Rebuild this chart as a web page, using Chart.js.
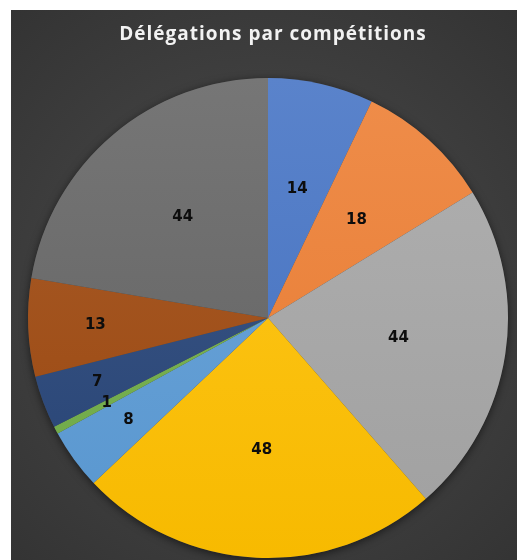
<!DOCTYPE html>
<html>
<head>
<meta charset="utf-8">
<script src="https://cdn.jsdelivr.net/npm/chart.js@4.4.1/dist/chart.umd.min.js"></script>
<style>
  html, body { margin: 0; padding: 0; background: #fff; }
  #wrap { width: 517px; height: 560px; position: relative; }
</style>
</head>
<body>
<div id="wrap"><canvas id="pie-chart"></canvas></div>
<script>
const title = "Délégations par compétitions";
const categories = ["A", "B", "C", "D", "E", "F", "G", "H", "I"];
const values = [14, 18, 44, 48, 8, 1, 7, 13, 44];
const sliceColors = [
  "#4472c4", "#ed7d31", "#a5a5a5", "#ffc000", "#5b9bd5",
  "#70ad47", "#264478", "#9e480e", "#636363",
];

const Config = {
  frame: { left: 11, top: 10 },
  bgInner: "#4b4b4b",
  bgOuter: "#333333",
  titleColor: "#f2f2f2",
  labelColor: "#0d0d0d",
};

// mix a hex colour with white (amt > 0) or black (amt < 0)
const shade = (hex, amt) => {
  const n = parseInt(hex.slice(1), 16);
  const ch = [(n >> 16) & 255, (n >> 8) & 255, n & 255].map((c) =>
    Math.round(amt > 0 ? c + (255 - c) * amt : c * (1 + amt))
  );
  return `rgb(${ch.join(",")})`;
};

const backdrop = {
  id: "backdrop",
  beforeDraw(chart) {
    const c = chart.ctx;
    const { width, height } = chart;
    const f = Config.frame;
    c.save();
    c.fillStyle = "#ffffff";
    c.fillRect(0, 0, width, height);
    const g = c.createRadialGradient(264, 290, 20, 264, 290, 380);
    g.addColorStop(0, Config.bgInner);
    g.addColorStop(1, Config.bgOuter);
    c.fillStyle = g;
    c.fillRect(f.left, f.top, width - f.left, height - f.top);

    c.fillStyle = Config.titleColor;
    c.font = "bold 19px 'Open Sans', sans-serif";
    c.letterSpacing = "1px";
    c.textAlign = "center";
    c.textBaseline = "middle";
    c.fillText(title, 273, 35);
    c.restore();
  },
  beforeDatasetsDraw(chart) {
    const arc = chart.getDatasetMeta(0).data[0];
    if (!arc) return;
    const c = chart.ctx;
    c.save();
    c.shadowColor = "rgba(0,0,0,0.55)";
    c.shadowBlur = 9;
    c.shadowOffsetY = 2;
    c.fillStyle = "#444";
    c.beginPath();
    c.arc(arc.x, arc.y, arc.outerRadius, 0, Math.PI * 2);
    c.fill();
    c.restore();
  },
};

const sliceLabels = {
  id: "sliceLabels",
  afterDatasetsDraw(chart) {
    const c = chart.ctx;
    const meta = chart.getDatasetMeta(0);
    c.save();
    c.fillStyle = Config.labelColor;
    c.font = "bold 15px 'DejaVu Sans', sans-serif";
    c.textAlign = "center";
    c.textBaseline = "middle";
    meta.data.forEach((arc, i) => {
      const v = values[i];
      const frac = v < 8 ? 0.76 : v < 14 ? 0.72 : 0.55;
      const mid = (arc.startAngle + arc.endAngle) / 2;
      const r = arc.outerRadius * frac;
      c.fillText(String(v), arc.x + Math.cos(mid) * r, arc.y + Math.sin(mid) * r);
    });
    c.restore();
  },
};

const ctx = document.getElementById("pie-chart");

new Chart(ctx, {
  type: "pie",
  data: {
    labels: categories,
    datasets: [
      {
        data: values,
        borderWidth: 0,
        backgroundColor: (context) => {
          const area = context.chart.chartArea;
          const base = sliceColors[context.dataIndex];
          if (!area) return base;
          const g = context.chart.ctx.createLinearGradient(0, area.top, 0, area.bottom);
          g.addColorStop(0, shade(base, 0.12));
          g.addColorStop(1, shade(base, -0.03));
          return g;
        },
      },
    ],
  },
  options: {
    responsive: true,
    maintainAspectRatio: false,
    animation: false,
    layout: { padding: { left: 28, right: 9, top: 78, bottom: 2 } },
    plugins: {
      legend: { display: false },
      tooltip: { enabled: false },
    },
  },
  plugins: [backdrop, sliceLabels],
});
</script>
</body>
</html>
